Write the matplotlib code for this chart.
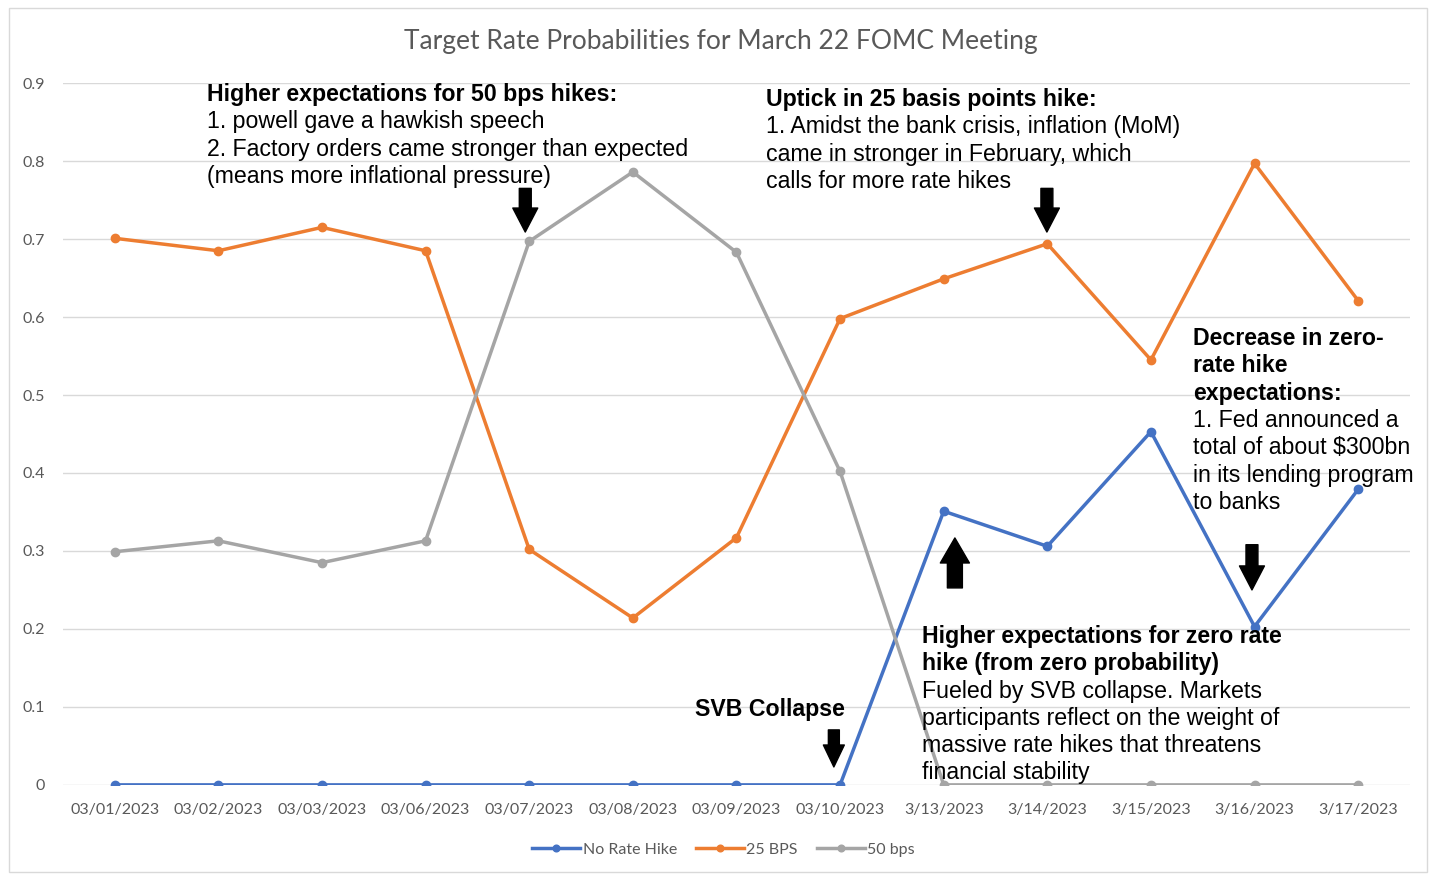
import matplotlib
matplotlib.use("Agg")
import matplotlib.pyplot as plt
from matplotlib.patches import Rectangle

dates = ["03/01/2023", "03/02/2023", "03/03/2023", "03/06/2023", "03/07/2023",
         "03/08/2023", "03/09/2023", "03/10/2023", "3/13/2023", "3/14/2023",
         "3/15/2023", "3/16/2023", "3/17/2023"]
no_hike = [0, 0, 0, 0, 0, 0, 0, 0, 0.351, 0.306, 0.453, 0.203, 0.379]
bps25 = [0.701, 0.685, 0.715, 0.685, 0.302, 0.214, 0.317, 0.598, 0.649, 0.694, 0.545, 0.797, 0.621]
bps50 = [0.299, 0.313, 0.285, 0.313, 0.697, 0.786, 0.683, 0.402, 0, 0, 0, 0, 0]
y_ticks = [0, 0.1, 0.2, 0.3, 0.4, 0.5, 0.6, 0.7, 0.8, 0.9]

BLUE = "#4472C4"
ORANGE = "#ED7D31"
GRAY = "#A5A5A5"
LABEL = "#595959"
ANN = "Liberation Sans"
UI = "Lato"

fig = plt.figure(figsize=(14.3, 8.75), dpi=100)
fig.patches.append(Rectangle((0.006, 0.003), 0.992, 0.988, transform=fig.transFigure,
                             fill=False, edgecolor="#D9D9D9", linewidth=1))
ax = fig.add_axes([0.044, 0.103, 0.942, 0.802])

x = list(range(len(dates)))
for vals, col, name in [(no_hike, BLUE, "No Rate Hike"),
                        (bps25, ORANGE, "25 BPS"),
                        (bps50, GRAY, "50 bps")]:
    ax.plot(x, vals, color=col, linewidth=2.5, marker="o", markersize=6,
            label=name, zorder=3)

ax.set_xlim(-0.5, len(dates) - 0.5)
ax.set_ylim(0, 0.9)
ax.set_yticks(y_ticks)
ax.set_yticklabels([f"{v:g}" for v in y_ticks])
ax.set_xticks(x)
ax.set_xticklabels(dates)
ax.grid(axis="y", color="#D9D9D9", linewidth=1)
ax.set_axisbelow(True)
for s in ax.spines.values():
    s.set_visible(False)
ax.tick_params(length=0, colors=LABEL, labelsize=11.5)
ax.tick_params(axis="x", pad=13)
ax.tick_params(axis="y", pad=13)
for lab in ax.get_xticklabels() + ax.get_yticklabels():
    lab.set_fontfamily(UI)

fig.text(0.504, 0.952, "Target Rate Probabilities for March 22 FOMC Meeting",
         ha="center", va="center", fontsize=19, color=LABEL, family=UI)

leg = fig.legend(loc="center", bbox_to_anchor=(0.506, 0.029), ncol=3, frameon=False,
                 prop={"family": UI, "size": 11.5}, handlelength=3.0,
                 columnspacing=1.2, handletextpad=0.15, markerscale=0.8)
for t in leg.get_texts():
    t.set_color(LABEL)

FS = 16.7
STEP = 0.035


def note(xd, y_first, lines):
    # lines: list of (text, bold) drawn one per row, top to bottom
    for i, (txt, bold) in enumerate(lines):
        ax.text(xd, y_first - i * STEP, txt, fontsize=FS, family=ANN,
                fontweight="bold" if bold else "normal",
                va="center_baseline", ha="left", zorder=4)


note(0.89, 0.8885, [("Higher expectations for 50 bps hikes:", True),
                    ("1. powell gave a hawkish speech", False),
                    ("2. Factory orders came stronger than expected", False),
                    ("(means more inflational pressure)", False)])
note(6.29, 0.882, [("Uptick in 25 basis points hike:", True),
                   ("1. Amidst the bank crisis, inflation (MoM)", False),
                   ("came in stronger in February, which", False),
                   ("calls for more rate hikes", False)])
note(10.41, 0.5756, [("Decrease in zero-", True),
                     ("rate hike", True),
                     ("expectations:", True),
                     ("1. Fed announced a", False),
                     ("total of about $300bn", False),
                     ("in its lending program", False),
                     ("to banks", False)])
note(7.79, 0.1936, [("Higher expectations for zero rate", True),
                    ("hike (from zero probability)", True),
                    ("Fueled by SVB collapse. Markets", False),
                    ("participants reflect on the weight of", False),
                    ("massive rate hikes that threatens", False),
                    ("financial stability", False)])
ax.text(6.32, 0.1, "SVB Collapse", fontsize=FS, fontweight="bold", family=ANN,
        va="center_baseline", ha="center", zorder=4)


def block_arrow(xd, y_tail, y_tip, shaft, head_w, head_l):
    # shaft / head sizes in points
    ax.annotate("", xy=(xd, y_tip), xytext=(xd, y_tail),
                arrowprops=dict(arrowstyle=f"simple,head_width={head_w/shaft:.2f},"
                                           f"head_length={head_l/shaft:.2f},tail_width=1.0",
                                color="black", shrinkA=0, shrinkB=0,
                                mutation_scale=shaft),
                zorder=5)


block_arrow(3.962, 0.765, 0.709, 8.6, 18, 17.3)
block_arrow(8.996, 0.765, 0.709, 8.6, 18, 17.3)
block_arrow(10.975, 0.308, 0.250, 8.6, 18, 17.3)
block_arrow(8.108, 0.2526, 0.3167, 10.8, 20.9, 18)
block_arrow(6.94, 0.0705, 0.023, 7.9, 15.1, 15.8)

fig.savefig("out.png", dpi=100, facecolor="white")
